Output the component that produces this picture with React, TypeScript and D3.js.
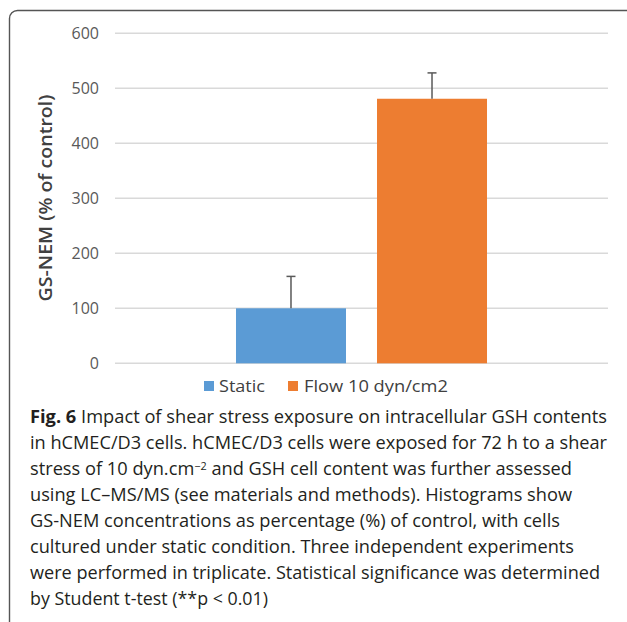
import * as d3 from "d3";

const series = ["Static", "Flow 10 dyn/cm2"];
const means = [100, 481];
const errors = [58, 47];
const colors = ["#5B9BD5", "#ED7D31"];
const yTicks = [0, 100, 200, 300, 400, 500, 600];

const captionLines = [
  "Impact of shear stress exposure on intracellular GSH contents",
  "in hCMEC/D3 cells. hCMEC/D3 cells were exposed for 72 h to a shear",
  "stress of 10 dyn.cm",
  "using LC–MS/MS (see materials and methods). Histograms show",
  "GS-NEM concentrations as percentage (%) of control, with cells",
  "cultured under static condition. Three independent experiments",
  "were performed in triplicate. Statistical significance was determined",
  "by Student t-test (**p < 0.01)",
];
const captionEnds = [607, 607, 572, 572, 560, 574, 600, 268];

const W = 627;
const H = 622;

export default function App() {
  const y = d3.scaleLinear().domain([0, 600]).range([363.3, 33.3]);
  const group = d3.scaleBand().domain(["all"]).range([115, 608]).paddingInner(0).paddingOuter(0.482);
  const inner = d3.scaleBand().domain(series).range([0, group.bandwidth()]).paddingInner(0.22).paddingOuter(0);
  const x0 = group("all") ?? 0;

  const font = "'Open Sans', 'Noto Sans', sans-serif";
  const capX = 30;
  const capY0 = 423;
  const capStep = 26;

  return (
    <svg width={W} height={H} style={{ position: "absolute", left: 0, top: 0, background: "#fff" }}>
      <path d={`M9.5,${H} L9.5,18.5 A8,8 0 0 1 17.5,10.5 L${W},10.5`} fill="none" stroke="#555" strokeWidth={1.4} />

      {yTicks.map((t) => (
        <g key={t}>
          <line x1={115} x2={608} y1={y(t)} y2={y(t)} stroke="#D9D9D9" strokeWidth={1.5} />
          <text x={99} y={y(t)} dy="0.35em" textAnchor="end" fontSize={16} fill="#595959" fontFamily={font}>
            {t}
          </text>
        </g>
      ))}

      {series.map((s, i) => {
        const bx = x0 + (inner(s) ?? 0);
        const bw = inner.bandwidth();
        const cx = bx + bw / 2;
        const top = y(means[i] + errors[i]);
        return (
          <g key={s}>
            <rect x={bx} y={y(means[i])} width={bw} height={y(0) - y(means[i])} fill={colors[i]} />
            <line x1={cx} x2={cx} y1={y(means[i])} y2={top} stroke="#595959" strokeWidth={1.5} />
            <line x1={cx - 4.5} x2={cx + 4.5} y1={top} y2={top} stroke="#595959" strokeWidth={1.5} />
          </g>
        );
      })}

      <text
        transform={`translate(46,198) rotate(-90)`}
        textAnchor="middle"
        dy="0.35em"
        fontSize={18}
        fontWeight={600}
        fill="#404040"
        fontFamily={font}
        textLength={207}
        lengthAdjust="spacingAndGlyphs"
      >
        GS-NEM (% of control)
      </text>

      <g fontFamily={font} fontSize={17} fill="#404040">
        <rect x={204} y={381} width={10} height={10} fill={colors[0]} />
        <text x={219} y={386} dy="0.35em" textLength={46} lengthAdjust="spacingAndGlyphs">
          {series[0]}
        </text>
        <rect x={288} y={381} width={10} height={10} fill={colors[1]} />
        <text x={304} y={386} dy="0.35em" textLength={144} lengthAdjust="spacingAndGlyphs">
          {series[1]}
        </text>
      </g>

      <g fontFamily={font} fontSize={18.5} fill="#231F20">
        {captionLines.map((line, i) => {
          const yy = capY0 + i * capStep;
          const len = captionEnds[i] - capX;
          if (i === 0) {
            return (
              <text key={i} x={capX} y={yy} textLength={len} lengthAdjust="spacingAndGlyphs">
                <tspan fontWeight={700}>Fig. 6</tspan>
                <tspan>{"  " + line}</tspan>
              </text>
            );
          }
          if (i === 2) {
            return (
              <text key={i} x={capX} y={yy} textLength={len} lengthAdjust="spacingAndGlyphs">
                <tspan>{line}</tspan>
                <tspan dy={-5} fontSize={11}>−2</tspan>
                <tspan dy={5}>{" and GSH cell content was further assessed"}</tspan>
              </text>
            );
          }
          return (
            <text key={i} x={capX} y={yy} textLength={len} lengthAdjust="spacingAndGlyphs">
              {line}
            </text>
          );
        })}
      </g>
    </svg>
  );
}
